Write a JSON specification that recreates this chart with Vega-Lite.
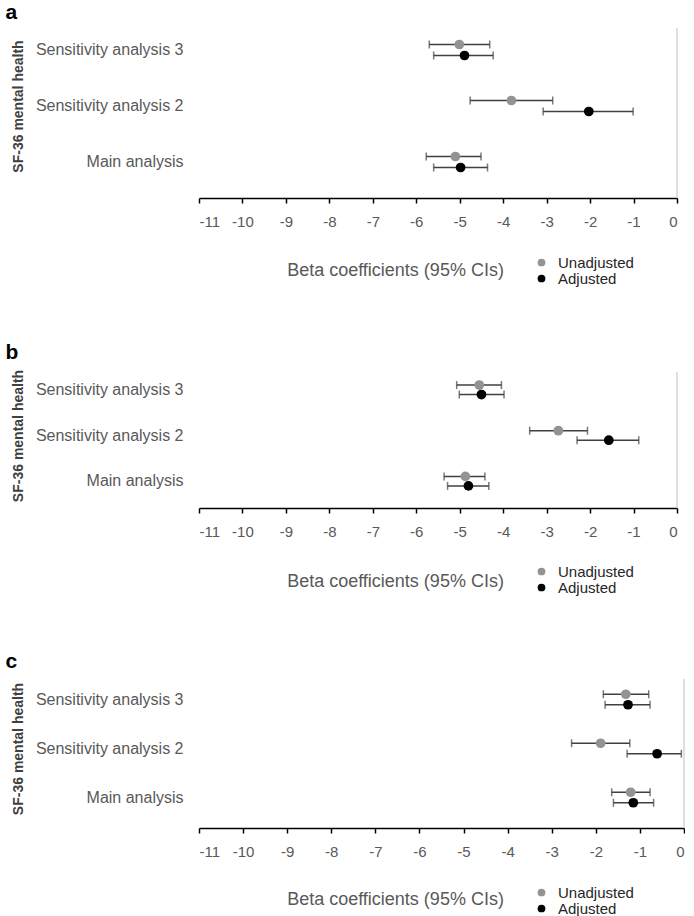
{
  "$schema": "https://vega.github.io/schema/vega-lite/v6.json",
  "padding": {"left": 5, "top": 2, "right": 0, "bottom": 0},
  "background": "white",
  "config": {
    "font": "Liberation Sans",
    "view": {"stroke": null},
    "concat": {"spacing": 55}
  },
  "datasets": {
    "d": [
      {"panel": "a", "analysis": "Sensitivity analysis 3", "group": "Unadjusted", "est": -5.01, "lo": -5.70, "hi": -4.31},
      {"panel": "a", "analysis": "Sensitivity analysis 3", "group": "Adjusted", "est": -4.89, "lo": -5.60, "hi": -4.23},
      {"panel": "a", "analysis": "Sensitivity analysis 2", "group": "Unadjusted", "est": -3.81, "lo": -4.76, "hi": -2.86},
      {"panel": "a", "analysis": "Sensitivity analysis 2", "group": "Adjusted", "est": -2.03, "lo": -3.08, "hi": -1.01},
      {"panel": "a", "analysis": "Main analysis", "group": "Unadjusted", "est": -5.10, "lo": -5.77, "hi": -4.51},
      {"panel": "a", "analysis": "Main analysis", "group": "Adjusted", "est": -4.98, "lo": -5.60, "hi": -4.36},
      {"panel": "b", "analysis": "Sensitivity analysis 3", "group": "Unadjusted", "est": -4.55, "lo": -5.07, "hi": -4.04},
      {"panel": "b", "analysis": "Sensitivity analysis 3", "group": "Adjusted", "est": -4.50, "lo": -5.01, "hi": -3.98},
      {"panel": "b", "analysis": "Sensitivity analysis 2", "group": "Unadjusted", "est": -2.73, "lo": -3.39, "hi": -2.06},
      {"panel": "b", "analysis": "Sensitivity analysis 2", "group": "Adjusted", "est": -1.57, "lo": -2.30, "hi": -0.88},
      {"panel": "b", "analysis": "Main analysis", "group": "Unadjusted", "est": -4.87, "lo": -5.36, "hi": -4.42},
      {"panel": "b", "analysis": "Main analysis", "group": "Adjusted", "est": -4.80, "lo": -5.28, "hi": -4.33},
      {"panel": "c", "analysis": "Sensitivity analysis 3", "group": "Unadjusted", "est": -1.32, "lo": -1.83, "hi": -0.80},
      {"panel": "c", "analysis": "Sensitivity analysis 3", "group": "Adjusted", "est": -1.27, "lo": -1.79, "hi": -0.77},
      {"panel": "c", "analysis": "Sensitivity analysis 2", "group": "Unadjusted", "est": -1.89, "lo": -2.55, "hi": -1.23},
      {"panel": "c", "analysis": "Sensitivity analysis 2", "group": "Adjusted", "est": -0.61, "lo": -1.29, "hi": -0.06},
      {"panel": "c", "analysis": "Main analysis", "group": "Unadjusted", "est": -1.21, "lo": -1.64, "hi": -0.77},
      {"panel": "c", "analysis": "Main analysis", "group": "Adjusted", "est": -1.15, "lo": -1.60, "hi": -0.69}
    ]
  },
  "resolve": {
    "scale": {"x": "independent", "y": "independent", "yOffset": "independent", "color": "independent"},
    "legend": {"color": "independent"}
  },
  "vconcat": [
    {
      "title": {"text": "a", "anchor": "start", "fontSize": 21, "fontWeight": "bold", "color": "#000000", "offset": 4, "dx": -6},
      "width": 478,
      "height": 170,
      "data": {"name": "d"},
      "transform": [{"filter": "datum.panel === 'a'"}],
      "layer": [
        {
          "data": {"values": [{}]},
          "mark": {"type": "rule", "color": "#d4d4d4", "strokeWidth": 1.5},
          "encoding": {"x": {"datum": 0, "type": "quantitative", "scale": {"domain": [-11, 0], "nice": false, "zero": false}}}
        },
        {
          "mark": {"type": "rule", "color": "#404040", "strokeWidth": 1.5},
          "encoding": {
            "x": {"field": "lo", "type": "quantitative", "scale": {"domain": [-11, 0], "nice": false, "zero": false},
              "axis": {"values": [-11, -10, -9, -8, -7, -6, -5, -4, -3, -2, -1, 0], "grid": false, "title": "Beta coefficients (95% CIs)",
                "labelExpr": "replace(datum.label, '\u2212', '-')",
                "domainColor": "#000000", "domainWidth": 1.5, "tickColor": "#000000", "tickWidth": 1.5, "tickSize": 5,
                "labelPadding": 11, "labelFontSize": 15, "labelColor": "#595959",
                "titleX": 196, "titleY": 63, "titleAlign": "center", "titleBaseline": "top", "titleFontSize": 18, "titleFontWeight": "normal", "titleColor": "#595959"}},
            "x2": {"field": "hi"},
            "y": {"field": "analysis", "type": "nominal", "sort": ["Sensitivity analysis 3", "Sensitivity analysis 2", "Main analysis"],
              "scale": {"range": [-6, 162], "paddingInner": 0, "paddingOuter": 0},
              "axis": {"title": "SF-36 mental health", "domain": false, "ticks": false, "tickSize": 0, "labelPadding": 16, "labelFontSize": 16, "labelColor": "#595959",
                "titleFontSize": 14, "titleFontWeight": "bold", "titleColor": "#404040", "titlePadding": 10}},
            "yOffset": {"field": "group", "type": "nominal", "sort": ["Unadjusted", "Adjusted"], "scale": {"range": [17, 39], "paddingInner": 0, "paddingOuter": 0}}
          }
        },
        {
          "mark": {"type": "tick", "color": "#404040", "thickness": 1.5, "size": 8, "orient": "vertical"},
          "encoding": {
            "x": {"field": "lo", "type": "quantitative"},
            "y": {"field": "analysis", "type": "nominal", "sort": ["Sensitivity analysis 3", "Sensitivity analysis 2", "Main analysis"]},
            "yOffset": {"field": "group", "type": "nominal", "sort": ["Unadjusted", "Adjusted"]}
          }
        },
        {
          "mark": {"type": "tick", "color": "#404040", "thickness": 1.5, "size": 8, "orient": "vertical"},
          "encoding": {
            "x": {"field": "hi", "type": "quantitative"},
            "y": {"field": "analysis", "type": "nominal", "sort": ["Sensitivity analysis 3", "Sensitivity analysis 2", "Main analysis"]},
            "yOffset": {"field": "group", "type": "nominal", "sort": ["Unadjusted", "Adjusted"]}
          }
        },
        {
          "mark": {"type": "circle", "size": 95, "opacity": 1},
          "encoding": {
            "x": {"field": "est", "type": "quantitative"},
            "y": {"field": "analysis", "type": "nominal", "sort": ["Sensitivity analysis 3", "Sensitivity analysis 2", "Main analysis"]},
            "yOffset": {"field": "group", "type": "nominal", "sort": ["Unadjusted", "Adjusted"]},
            "color": {"field": "group", "type": "nominal", "sort": ["Unadjusted", "Adjusted"],
              "scale": {"domain": ["Unadjusted", "Adjusted"], "range": ["#939393", "#000000"]},
              "legend": {"orient": "none", "legendX": 335, "legendY": 227, "title": null, "symbolType": "circle", "symbolSize": 60, "symbolOpacity": 1,
                "labelFontSize": 15, "labelColor": "#262626", "labelOffset": 9, "rowPadding": -2.5, "padding": 0}}
          }
        }
      ]
    },
    {
      "title": {"text": "b", "anchor": "start", "fontSize": 21, "fontWeight": "bold", "color": "#000000", "offset": 6, "dx": -6},
      "width": 478,
      "height": 136,
      "data": {"name": "d"},
      "transform": [{"filter": "datum.panel === 'b'"}],
      "layer": [
        {
          "data": {"values": [{}]},
          "mark": {"type": "rule", "color": "#d4d4d4", "strokeWidth": 1.5},
          "encoding": {"x": {"datum": 0, "type": "quantitative", "scale": {"domain": [-11, 0], "nice": false, "zero": false}}}
        },
        {
          "mark": {"type": "rule", "color": "#404040", "strokeWidth": 1.5},
          "encoding": {
            "x": {"field": "lo", "type": "quantitative", "scale": {"domain": [-11, 0], "nice": false, "zero": false},
              "axis": {"values": [-11, -10, -9, -8, -7, -6, -5, -4, -3, -2, -1, 0], "grid": false, "title": "Beta coefficients (95% CIs)",
                "labelExpr": "replace(datum.label, '\u2212', '-')",
                "domainColor": "#000000", "domainWidth": 1.5, "tickColor": "#000000", "tickWidth": 1.5, "tickSize": 5,
                "labelPadding": 11, "labelFontSize": 15, "labelColor": "#595959",
                "titleX": 196, "titleY": 64, "titleAlign": "center", "titleBaseline": "top", "titleFontSize": 18, "titleFontWeight": "normal", "titleColor": "#595959"}},
            "x2": {"field": "hi"},
            "y": {"field": "analysis", "type": "nominal", "sort": ["Sensitivity analysis 3", "Sensitivity analysis 2", "Main analysis"],
              "scale": {"range": [-5, 132], "paddingInner": 0, "paddingOuter": 0},
              "axis": {"title": "SF-36 mental health", "domain": false, "ticks": false, "tickSize": 0, "labelPadding": 16, "labelFontSize": 16, "labelColor": "#595959",
                "titleFontSize": 14, "titleFontWeight": "bold", "titleColor": "#404040", "titlePadding": 10}},
            "yOffset": {"field": "group", "type": "nominal", "sort": ["Unadjusted", "Adjusted"], "scale": {"range": [13.3, 32.3], "paddingInner": 0, "paddingOuter": 0}}
          }
        },
        {
          "mark": {"type": "tick", "color": "#404040", "thickness": 1.5, "size": 8, "orient": "vertical"},
          "encoding": {
            "x": {"field": "lo", "type": "quantitative"},
            "y": {"field": "analysis", "type": "nominal", "sort": ["Sensitivity analysis 3", "Sensitivity analysis 2", "Main analysis"]},
            "yOffset": {"field": "group", "type": "nominal", "sort": ["Unadjusted", "Adjusted"]}
          }
        },
        {
          "mark": {"type": "tick", "color": "#404040", "thickness": 1.5, "size": 8, "orient": "vertical"},
          "encoding": {
            "x": {"field": "hi", "type": "quantitative"},
            "y": {"field": "analysis", "type": "nominal", "sort": ["Sensitivity analysis 3", "Sensitivity analysis 2", "Main analysis"]},
            "yOffset": {"field": "group", "type": "nominal", "sort": ["Unadjusted", "Adjusted"]}
          }
        },
        {
          "mark": {"type": "circle", "size": 95, "opacity": 1},
          "encoding": {
            "x": {"field": "est", "type": "quantitative"},
            "y": {"field": "analysis", "type": "nominal", "sort": ["Sensitivity analysis 3", "Sensitivity analysis 2", "Main analysis"]},
            "yOffset": {"field": "group", "type": "nominal", "sort": ["Unadjusted", "Adjusted"]},
            "color": {"field": "group", "type": "nominal", "sort": ["Unadjusted", "Adjusted"],
              "scale": {"domain": ["Unadjusted", "Adjusted"], "range": ["#939393", "#000000"]},
              "legend": {"orient": "none", "legendX": 335, "legendY": 192, "title": null, "symbolType": "circle", "symbolSize": 60, "symbolOpacity": 1,
                "labelFontSize": 15, "labelColor": "#262626", "labelOffset": 9, "rowPadding": -2.5, "padding": 0}}
          }
        }
      ]
    },
    {
      "title": {"text": "c", "anchor": "start", "fontSize": 21, "fontWeight": "bold", "color": "#000000", "offset": 6, "dx": -6},
      "width": 485,
      "height": 149,
      "data": {"name": "d"},
      "transform": [{"filter": "datum.panel === 'c'"}],
      "layer": [
        {
          "data": {"values": [{}]},
          "mark": {"type": "rule", "color": "#d4d4d4", "strokeWidth": 1.5},
          "encoding": {"x": {"datum": 0, "type": "quantitative", "scale": {"domain": [-11, 0], "nice": false, "zero": false}}}
        },
        {
          "mark": {"type": "rule", "color": "#404040", "strokeWidth": 1.5},
          "encoding": {
            "x": {"field": "lo", "type": "quantitative", "scale": {"domain": [-11, 0], "nice": false, "zero": false},
              "axis": {"values": [-11, -10, -9, -8, -7, -6, -5, -4, -3, -2, -1, 0], "grid": false, "title": "Beta coefficients (95% CIs)",
                "labelExpr": "replace(datum.label, '\u2212', '-')",
                "domainColor": "#000000", "domainWidth": 1.5, "tickColor": "#000000", "tickWidth": 1.5, "tickSize": 5,
                "labelPadding": 11, "labelFontSize": 15, "labelColor": "#595959",
                "titleX": 196, "titleY": 62, "titleAlign": "center", "titleBaseline": "top", "titleFontSize": 18, "titleFontWeight": "normal", "titleColor": "#595959"}},
            "x2": {"field": "hi"},
            "y": {"field": "analysis", "type": "nominal", "sort": ["Sensitivity analysis 3", "Sensitivity analysis 2", "Main analysis"],
              "scale": {"range": [-4, 143], "paddingInner": 0, "paddingOuter": 0},
              "axis": {"title": "SF-36 mental health", "domain": false, "ticks": false, "tickSize": 0, "labelPadding": 16, "labelFontSize": 16, "labelColor": "#595959",
                "titleFontSize": 14, "titleFontWeight": "bold", "titleColor": "#404040", "titlePadding": 10}},
            "yOffset": {"field": "group", "type": "nominal", "sort": ["Unadjusted", "Adjusted"], "scale": {"range": [14, 35], "paddingInner": 0, "paddingOuter": 0}}
          }
        },
        {
          "mark": {"type": "tick", "color": "#404040", "thickness": 1.5, "size": 8, "orient": "vertical"},
          "encoding": {
            "x": {"field": "lo", "type": "quantitative"},
            "y": {"field": "analysis", "type": "nominal", "sort": ["Sensitivity analysis 3", "Sensitivity analysis 2", "Main analysis"]},
            "yOffset": {"field": "group", "type": "nominal", "sort": ["Unadjusted", "Adjusted"]}
          }
        },
        {
          "mark": {"type": "tick", "color": "#404040", "thickness": 1.5, "size": 8, "orient": "vertical"},
          "encoding": {
            "x": {"field": "hi", "type": "quantitative"},
            "y": {"field": "analysis", "type": "nominal", "sort": ["Sensitivity analysis 3", "Sensitivity analysis 2", "Main analysis"]},
            "yOffset": {"field": "group", "type": "nominal", "sort": ["Unadjusted", "Adjusted"]}
          }
        },
        {
          "mark": {"type": "circle", "size": 95, "opacity": 1},
          "encoding": {
            "x": {"field": "est", "type": "quantitative"},
            "y": {"field": "analysis", "type": "nominal", "sort": ["Sensitivity analysis 3", "Sensitivity analysis 2", "Main analysis"]},
            "yOffset": {"field": "group", "type": "nominal", "sort": ["Unadjusted", "Adjusted"]},
            "color": {"field": "group", "type": "nominal", "sort": ["Unadjusted", "Adjusted"],
              "scale": {"domain": ["Unadjusted", "Adjusted"], "range": ["#939393", "#000000"]},
              "legend": {"orient": "none", "legendX": 335, "legendY": 206, "title": null, "symbolType": "circle", "symbolSize": 60, "symbolOpacity": 1,
                "labelFontSize": 15, "labelColor": "#262626", "labelOffset": 9, "rowPadding": -2.5, "padding": 0}}
          }
        }
      ]
    }
  ]
}
